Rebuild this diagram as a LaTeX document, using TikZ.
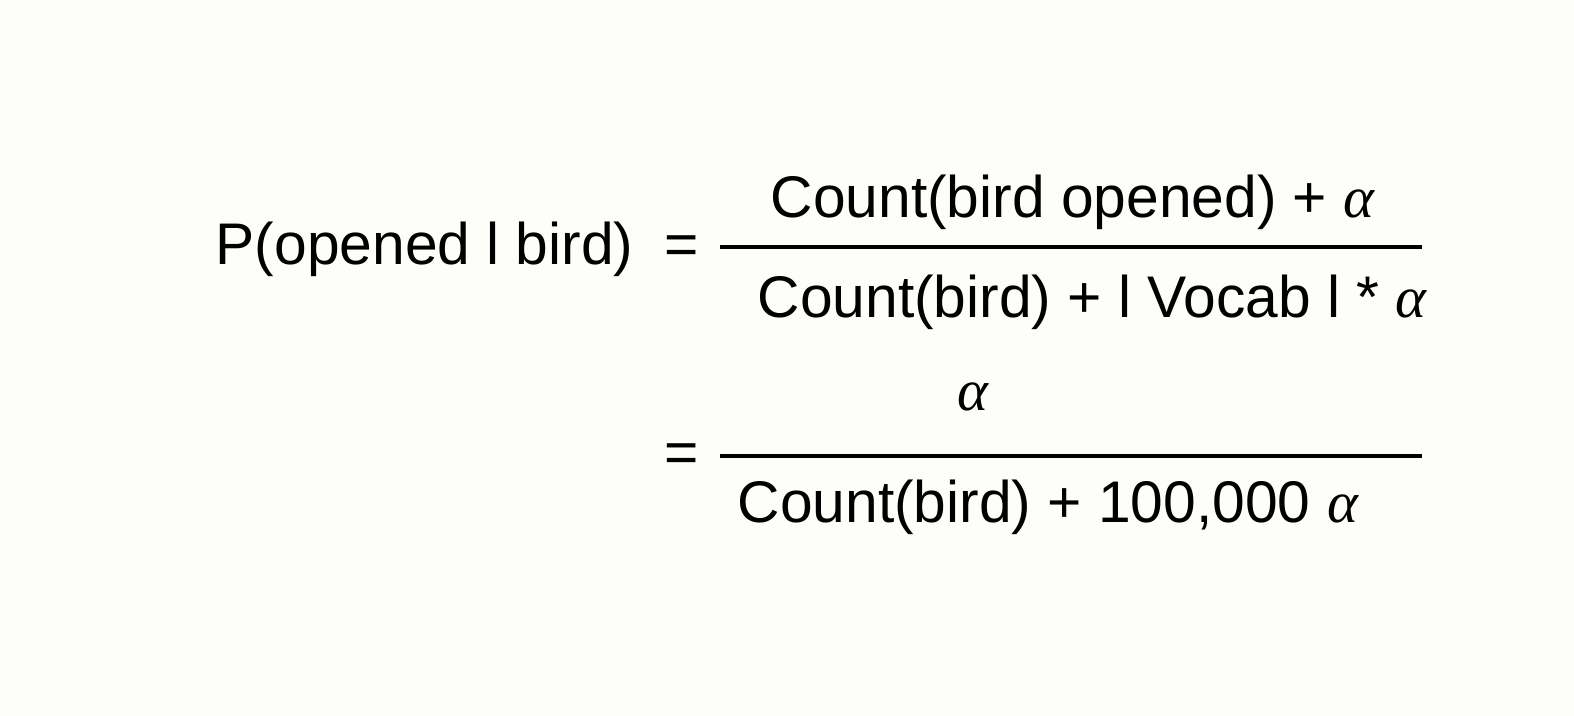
\documentclass[tikz,border=0pt]{standalone}
\usepackage{fontspec}
\setmainfont{Liberation Sans}
\newfontfamily\alfont{Liberation Serif}
\usepackage{xcolor}
\usetikzlibrary{positioning,calc}
\definecolor{paper}{HTML}{FDFDFA}
\newcommand{\al}{{\alfont\itshape α}}
\tikzset{
  term/.style={anchor=base west, inner sep=0pt, font=\fontsize{16.7}{20}\selectfont},
  fracbar/.style={line width=1.1pt}
}
\begin{document}
\begin{tikzpicture}[x=0.01cm, y=-0.01cm]
    % Background
    \fill[paper] (0,0) rectangle (1574,716);
    \useasboundingbox (0,0) rectangle (1574,716);

    % Left side and first fraction
    \node[term] (lhs) at (215,265) {P(opened l bird)};
    \node[term] (eqA) at (664,265) {=};
    \coordinate (barAl) at (720,247);
    \coordinate (barAr) at (1422,247);
    \draw[fracbar] (barAl) -- (barAr);
    \node[term] (numA) at (770,218) {Count(bird opened) + \al};
    \node[term] (denA) at (757,318) {Count(bird) + l Vocab l * \al};

    % Second fraction
    \node[term] (eqB) at (664,472) {=};
    \coordinate (barBl) at (720,456);
    \coordinate (barBr) at (1422,456);
    \draw[fracbar] (barBl) -- (barBr);
    \node[term] (numB) at (957,410) {\al};
    \node[term] (denB) at (737,522) {Count(bird) + 100,000 \al};

\end{tikzpicture}
\end{document}
